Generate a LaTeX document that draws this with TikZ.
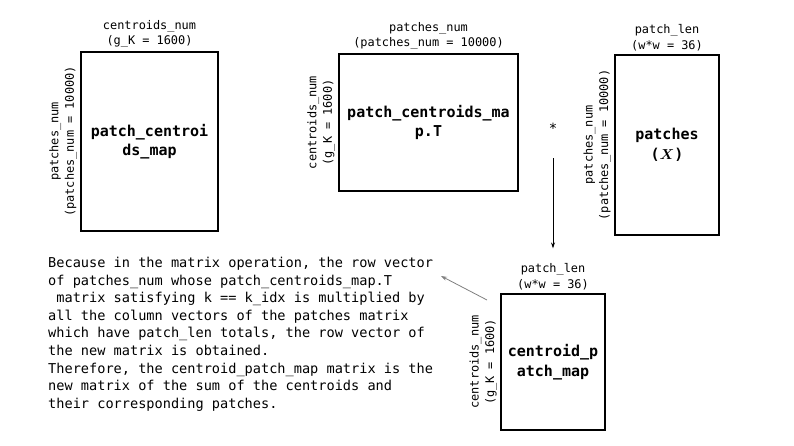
\documentclass[tikz,border=0pt]{standalone}
\usepackage{fontspec}
\setmonofont{DejaVu Sans Mono}
\usetikzlibrary{arrows.meta}
\begin{document}
\begin{tikzpicture}[x=1pt,y=-1pt,
  mat/.style={draw=black, line width=2pt, inner sep=0pt, align=center,
    font=\ttfamily\bfseries\fontsize{15}{19.5}\selectfont},
  dimlab/.style={align=center, inner sep=1pt,
    font=\ttfamily\fontsize{11.9}{15.5}\selectfont},
  arr/.style={-{Stealth[length=6pt,width=4pt]}, line width=0.8pt},
  garr/.style={-{Stealth[length=6pt,width=4pt]}, line width=0.8pt, draw=black!50}]
\useasboundingbox (0,0) rectangle (794,446);
\fill[white] (0,0) rectangle (794,446);
% matrices
\node[mat, minimum width=137pt, minimum height=179pt] (m1) at (149.5,141.5) {patch\_centroi\\ds\_map};
\node[mat, minimum width=179pt, minimum height=137pt] (m2) at (428.5,122.5) {patch\_centroids\_ma\\p.T};
\node[mat, minimum width=104pt, minimum height=180pt] (m3) at (667,145) {patches\\({\boldmath$X$})};
\node[mat, minimum width=104pt, minimum height=136pt] (m4) at (553,362) {centroid\_p\\atch\_map};
% top labels
\node[dimlab, anchor=south] (t1) at ([yshift=2pt]m1.north) {centroids\_num\\(g\_K = 1600)};
\node[dimlab, anchor=south] (t2) at ([yshift=2pt]m2.north) {patches\_num\\(patches\_num = 10000)};
\node[dimlab, anchor=south] (t3) at ([yshift=2pt]m3.north) {patch\_len\\(w*w = 36)};
\node[dimlab, anchor=south] (t4) at ([yshift=2pt]m4.north) {patch\_len\\(w*w = 36)};
% side labels
\node[dimlab, rotate=90, anchor=south] (l1) at ([xshift=-2pt]m1.west) {patches\_num\\(patches\_num = 10000)};
\node[dimlab, rotate=90, anchor=south] (l2) at ([xshift=-2pt]m2.west) {centroids\_num\\(g\_K = 1600)};
\node[dimlab, rotate=90, anchor=south] (l3) at ([xshift=-2pt]m3.west) {patches\_num\\(patches\_num = 10000)};
\node[dimlab, rotate=90, anchor=south] (l4) at ([xshift=-2pt]m4.west) {centroids\_num\\(g\_K = 1600)};
% operator and arrow
\node[font=\ttfamily\fontsize{14}{14}\selectfont, inner sep=1pt] (star) at (553,128) {*};
\draw[arr, shorten <=24pt, shorten >=14pt] (star) -- (t4);
% explanation
\node[anchor=north west, inner sep=0pt, align=left,
  font=\ttfamily\fontsize{13.6}{17.6}\selectfont] (txt) at (48,257)
{Because in the matrix operation, the row vector\\
of patches\_num whose patch\_centroids\_map.T\\
\hphantom{m}matrix satisfying k == k\_idx is multiplied by\\
all the column vectors of the patches matrix\\
which have patch\_len totals, the row vector of\\
the new matrix is obtained.\\
Therefore, the centroid\_patch\_map matrix is the\\
new matrix of the sum of the centroids and\\
their corresponding patches.};
\coordinate (g1) at (487,300);
\coordinate (g2) at (441,276);
\draw[garr] (g1) -- (g2);
\end{tikzpicture}
\end{document}
